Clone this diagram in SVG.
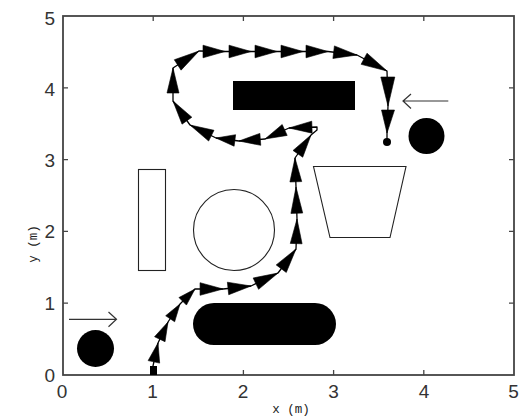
<svg xmlns="http://www.w3.org/2000/svg" width="521" height="417" viewBox="0 0 521 417">
<style>
.ax{fill:none;stroke:#444;stroke-width:1.8}
.tk{stroke:#444;stroke-width:1.3}
.lbl{font-family:"Liberation Sans",Arial,sans-serif;font-size:19px;fill:#333}
.axl{font-family:"Liberation Mono","Courier New",monospace;font-size:12.5px;fill:#222}
.obs{fill:#000}
.out{fill:none;stroke:#222;stroke-width:1.1}
.trk{fill:none;stroke:#000;stroke-width:1.3;stroke-linejoin:round}
.hd{fill:#000;stroke:#000;stroke-width:0.6;stroke-linejoin:round}
.ind{fill:none;stroke:#333;stroke-width:1.2}
</style>
<rect width="521" height="417" fill="#fff"/>
<g id="axes">
<rect class="ax" x="63" y="16" width="451" height="359"/>
<path class="tk" d="M153.2 375v-5M243.4 375v-5M333.6 375v-5M423.8 375v-5M153.2 16v5M243.4 16v5M333.6 16v5M423.8 16v5M63 303.2h5M63 231.4h5M63 159.6h5M63 87.8h5M514 303.2h-5M514 231.4h-5M514 159.6h-5M514 87.8h-5"/>
<g class="lbl" text-anchor="middle">
<text x="62" y="398">0</text><text x="152.5" y="398">1</text><text x="243" y="398">2</text><text x="333.5" y="398">3</text><text x="424" y="398">4</text><text x="513.5" y="398">5</text>
</g>
<g class="lbl" text-anchor="end">
<text x="55" y="382">0</text><text x="55" y="310">1</text><text x="55" y="238">2</text><text x="55" y="167">3</text><text x="55" y="96">4</text><text x="55" y="25">5</text>
</g>
<text class="axl" x="291" y="413" text-anchor="middle">x (m)</text>
<text class="axl" transform="translate(37 244) rotate(-90)" text-anchor="middle">y (m)</text>
</g>
<g id="obstacle-top-bar"><rect class="obs" x="233" y="81" width="122" height="29"/></g>
<g id="obstacle-right-disc"><circle class="obs" cx="426.5" cy="136" r="18"/></g>
<g id="obstacle-left-disc"><circle class="obs" cx="95.5" cy="348.5" r="18.5"/></g>
<g id="obstacle-capsule"><rect class="obs" x="193" y="303" width="143" height="42" rx="21"/></g>
<g id="obstacle-rect"><rect class="out" x="138.5" y="169.5" width="27" height="101"/></g>
<g id="obstacle-circle"><circle class="out" cx="234" cy="230" r="40.5"/></g>
<g id="obstacle-trapezoid"><polygon class="out" points="313.5,166.5 406,166.5 390,237.5 330,237.5"/></g>
<g id="start"><rect x="150" y="366" width="7" height="9" fill="#000"/></g>
<g id="goal"><circle cx="387" cy="142" r="4" fill="#000"/></g>
<g id="connectors">
<polyline class="trk" points="153,375 153,366 158,343 168,322 180,304 195,289 223,289 251,286 278,273 296,249 297,219 296,187 295,158 311,135 317,130 317,127 289,128 265,139 239,141 216,138 190,125 173,101 173,68 199,51 225,51.5 251,51.5 277,51.5 303,51.5 328,51.5 357,55 387,71 388,106 387,133 387,142"/>
<g class="hd">
<polygon points="158,343 159.66,363.11 148.14,360.61"/>
<polygon points="168,322 165.04,341.71 154.56,336.73"/>
<polygon points="180,304 174.65,321.76 165.67,315.76"/>
<polygon points="195,289 186.45,305.05 178.95,297.55"/>
<polygon points="223,289 200.04,295.3 200.04,282.7"/>
<polygon points="251,286 228.71,294.72 227.37,282.2"/>
<polygon points="278,273 258.59,289.34 253.13,277.98"/>
<polygon points="296,249 286.28,272.46 276.2,264.9"/>
<polygon points="297,219 302.08,243.8 290.28,243.4"/>
<polygon points="296,187 302.72,213.06 290.92,213.42"/>
<polygon points="295,158 301.72,181.58 289.92,181.98"/>
<polygon points="311,135 302.72,157.22 293.04,150.48"/>
<polygon points="289,128 311.74,121.18 312.16,133.18"/>
<polygon points="265,139 282.18,124.53 287.18,135.43"/>
<polygon points="239,141 259.86,133.38 260.78,145.34"/>
<polygon points="216,138 235.61,134.71 234.11,146.21"/>
<polygon points="190,125 214,130.29 208.64,141.03"/>
<polygon points="173,101 191.84,117.21 182.04,124.15"/>
<polygon points="173,68 179,93 167,93"/>
<polygon points="199,51 181.07,70.13 174.29,59.75"/>
<polygon points="225,51.5 203,57.8 203,45.2"/>
<polygon points="251,51.5 229,57.8 229,45.2"/>
<polygon points="277,51.5 255,57.8 255,45.2"/>
<polygon points="303,51.5 281,57.8 281,45.2"/>
<polygon points="328,51.5 306,57.8 306,45.2"/>
<polygon points="357,55 332.9,58.44 334.42,45.92"/>
<polygon points="387,71 361.1,64.32 367.02,53.2"/>
<polygon points="388,106 394.8,77 380.8,77"/>
<polygon points="387,133 394.5,110 381.5,110"/>
</g>
<path class="ind" d="M448.3 101H403M411 94l-8 7 8 7.5"/>
<path class="ind" d="M69 319.3h47.5M108.5 312l8 7.3-8 7.5"/>
</g>
</svg>
